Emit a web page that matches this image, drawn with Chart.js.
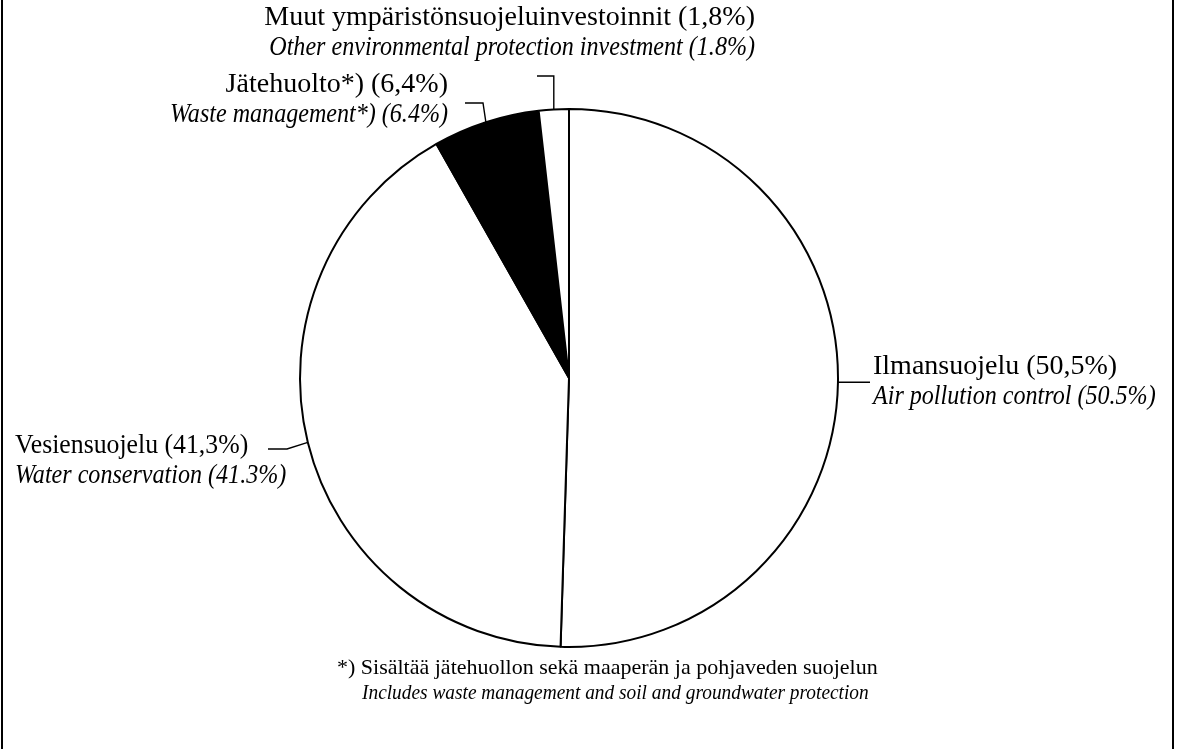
<!DOCTYPE html>
<html>
<head>
<meta charset="utf-8">
<script src="https://cdn.jsdelivr.net/npm/chart.js@4"></script>
<style>
  body { margin: 0; background: #fff; }
  canvas { display: block; }
</style>
</head>
<body>
<canvas id="pie" width="1179" height="749"></canvas>
<script>
// slices, clockwise from 12 o'clock
const namesFi = ["Ilmansuojelu", "Vesiensuojelu", "Jätehuolto*)", "Muut ympäristönsuojeluinvestoinnit"];
const namesEn = ["Air pollution control", "Water conservation", "Waste management*)", "Other environmental protection investment"];
const shares = [50.5, 41.3, 6.4, 1.8];
const fills = ["#ffffff", "#ffffff", "#000000", "#ffffff"];

const noteFi = "*) Sisältää jätehuollon sekä maaperän ja pohjaveden suojelun";
const noteEn = "Includes waste management and soil and groundwater protection";

// where each label sits and how its leader line runs (last point = slice edge)
const labelPos = [
  { align: "left",  x: 873, y: 374, sq: 1,    leader: [[870, null]] },
  { align: "left",  x: 15,  y: 453, sq: 0.92, leader: [[268, 449], [287, 449]] },
  { align: "right", x: 448, y: 92,  sq: 1,    leader: [[465, 103], [483, 103]] },
  { align: "right", x: 755, y: 25,  sq: 1,    leader: [[537, 76], [null, 76]] }
];

const serif = '"Liberation Serif", "DejaVu Serif", serif';

function putText(ctx, txt, x, y, font, align, squeeze) {
  ctx.save();
  ctx.font = font;
  ctx.textAlign = align;
  ctx.textBaseline = "alphabetic";
  ctx.translate(x, y);
  ctx.scale(squeeze, 1);
  ctx.fillText(txt, 0, 0);
  ctx.restore();
}

const labelPlugin = {
  id: "labels",
  afterDraw(chart) {
    const ctx = chart.ctx;
    const arcs = chart.getDatasetMeta(0).data;
    ctx.save();
    ctx.fillStyle = "#000";
    ctx.strokeStyle = "#000";

    // frame sides
    ctx.lineWidth = 2;
    ctx.beginPath();
    ctx.moveTo(2, 0); ctx.lineTo(2, 749);
    ctx.moveTo(1173, 0); ctx.lineTo(1173, 749);
    ctx.stroke();

    ctx.lineWidth = 1.4;
    for (let i = 0; i < shares.length; i++) {
      const p = arcs[i].getProps(["x", "y", "startAngle", "endAngle", "outerRadius"]);
      const a = (p.startAngle + p.endAngle) / 2;
      const ex = p.x + Math.cos(a) * p.outerRadius;
      const ey = p.y + Math.sin(a) * p.outerRadius;
      const pos = labelPos[i];

      ctx.beginPath();
      pos.leader.forEach((pt, k) => {
        const lx = pt[0] === null ? ex : pt[0];
        const ly = pt[1] === null ? ey : pt[1];
        if (k === 0) ctx.moveTo(lx, ly); else ctx.lineTo(lx, ly);
      });
      ctx.lineTo(ex, ey);
      ctx.stroke();

      const v = shares[i].toFixed(1);
      putText(ctx, namesFi[i] + " (" + v.replace(".", ",") + "%)", pos.x, pos.y, "28px " + serif, pos.align, pos.sq);
      putText(ctx, namesEn[i] + " (" + v + "%)", pos.x, pos.y + 30, "italic 28px " + serif, pos.align, 0.86);
    }

    putText(ctx, noteFi, 337, 674, "22px " + serif, "left", 1);
    putText(ctx, noteEn, 362, 699, "italic 22px " + serif, "left", 0.88);
    ctx.restore();
  }
};

new Chart(document.getElementById("pie"), {
  type: "pie",
  data: {
    labels: namesFi,
    datasets: [{
      data: shares,
      backgroundColor: fills,
      borderColor: "#000000",
      borderWidth: 2
    }]
  },
  options: {
    responsive: false,
    animation: false,
    events: [],
    layout: { padding: { left: 299, right: 340, top: 108, bottom: 101 } },
    plugins: {
      legend: { display: false },
      tooltip: { enabled: false }
    }
  },
  plugins: [labelPlugin]
});
</script>
</body>
</html>
